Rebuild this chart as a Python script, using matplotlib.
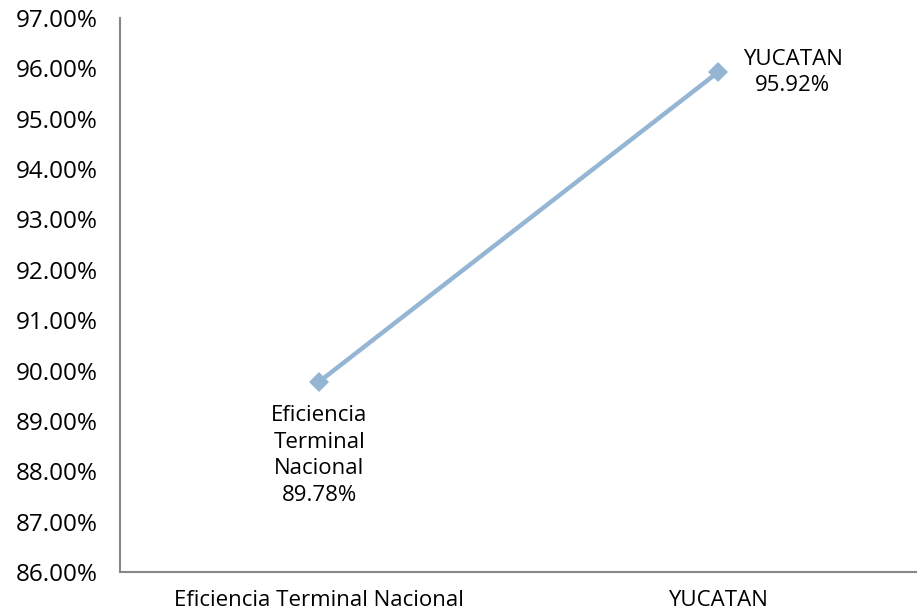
import matplotlib.pyplot as plt
from matplotlib.ticker import FuncFormatter

categories = ["Eficiencia Terminal Nacional", "YUCATAN"]
values = [89.78, 95.92]
point_labels = ["Eficiencia\nTerminal\nNacional\n89.78%", "YUCATAN\n95.92%"]

plt.rcParams['font.family'] = ['Open Sans', 'DejaVu Sans']

fig = plt.figure(figsize=(9.17, 6.14), dpi=100)
ax = fig.add_axes([120/917, 42/614, 797/917, 554/614])

x = list(range(len(categories)))
ax.plot(x, values, color='#94b6d4', linewidth=3.2, marker='D', markersize=10,
        markeredgewidth=0, solid_capstyle='butt', clip_on=False)

ax.set_xlim(-0.5, 1.5)
ax.set_ylim(86, 97)
ax.set_yticks(range(86, 98))
ax.yaxis.set_major_formatter(FuncFormatter(lambda v, p: f"{v:.2f}%"))
ax.set_xticks(x)
ax.set_xticklabels(categories)
ax.tick_params(axis='y', length=0, pad=16, labelsize=17.5)
ax.tick_params(axis='x', length=0, pad=13, labelsize=16)

for s in ['top', 'right']:
    ax.spines[s].set_visible(False)
for s in ['left', 'bottom']:
    ax.spines[s].set_color('#888888')
    ax.spines[s].set_linewidth(1.5)

ax.annotate(point_labels[0], (x[0], values[0]), xytext=(0, -17), textcoords='offset points',
            ha='center', va='top', fontsize=16, linespacing=1.35)
ax.annotate(point_labels[1], (x[1], values[1]), xytext=(54, 0), textcoords='offset points',
            ha='center', va='center', fontsize=16, linespacing=1.35)

fig.savefig("out.png", dpi=100)
